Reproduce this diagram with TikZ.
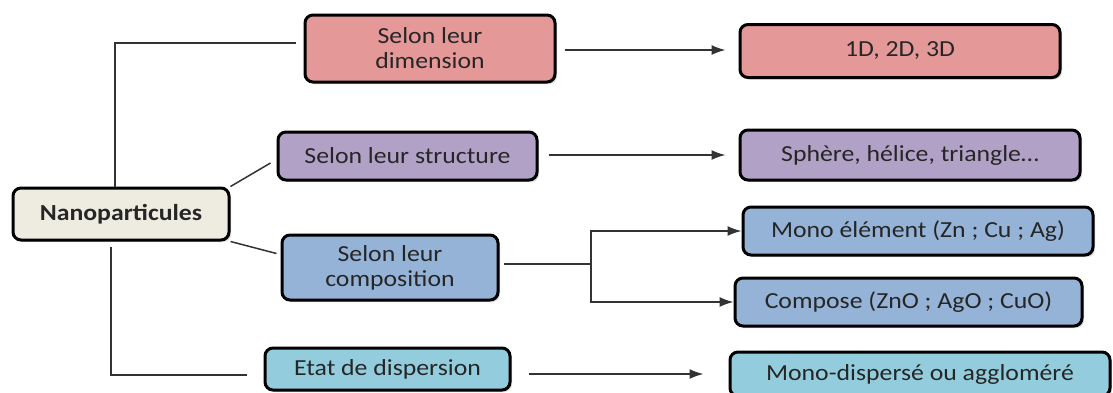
\documentclass[tikz,border=0pt]{standalone}
\usepackage{fontspec}
\setmainfont{Carlito}[FakeStretch=1.12]
\usetikzlibrary{shapes, arrows.meta, shadows}

\definecolor{nanocol}{RGB}{238,236,225}
\definecolor{dimcol}{RGB}{228,152,152}
\definecolor{strucol}{RGB}{178,161,199}
\definecolor{compcol}{RGB}{149,179,215}
\definecolor{dispcol}{RGB}{147,205,221}

\tikzset{
	box/.style={draw=black, line width=3pt, rounded corners=8pt, align=center, inner sep=0pt,
		text=black!85, font=\fontsize{23}{25}\selectfont,
		drop shadow={shadow xshift=2pt, shadow yshift=-2pt, opacity=0.3}},
	link/.style={line width=1.5pt, black!80},
	arr/.style={link, -{Latex[length=14pt, width=10pt]}}
}

\begin{document}
\begin{tikzpicture}[x=1pt, y=-1pt]
	\useasboundingbox (0,0) rectangle (1113,392);
	%Nanoparticules
		\node[box, fill=nanocol, minimum width=216pt, minimum height=52pt, font=\fontsize{23}{25}\selectfont\bfseries] (nano) at (121,214) {Nanoparticules};
	%Selon leur dimension
		\node[box, fill=dimcol, minimum width=250pt, minimum height=67pt] (dim) at (430,48.5) {Selon leur\\dimension};
		\node[box, fill=dimcol, minimum width=320pt, minimum height=53pt] (d1) at (900,51) {1D, 2D, 3D};
	%Selon leur structure
		\node[box, fill=strucol, minimum width=259pt, minimum height=48pt] (struc) at (407.5,156) {Selon leur structure};
		\node[box, fill=strucol, minimum width=340pt, minimum height=50pt] (sph) at (910,155) {Sphère, hélice, triangle…};
	%Selon leur composition
		\node[box, fill=compcol, minimum width=216pt, minimum height=65pt] (comp) at (390,267.5) {Selon leur\\composition};
		\node[box, fill=compcol, minimum width=350pt, minimum height=48pt] (mono) at (918,231) {Mono élément (Zn ; Cu ; Ag)};
		\node[box, fill=compcol, minimum width=347pt, minimum height=48pt] (compo) at (908.5,302) {Compose (ZnO ; AgO ; CuO)};
		\coordinate (branch) at (591,264);
	%Etat de dispersion
		\node[box, fill=dispcol, minimum width=245pt, minimum height=42pt] (etat) at (387.5,369) {Etat de dispersion};
		\node[box, fill=dispcol, minimum width=380pt, minimum height=44pt] (disp) at (920,374) {Mono-dispersé ou aggloméré};
	%Nanoparticules->branches
		\draw[link] ([xshift=-6pt]nano.north) |- ([xshift=-8pt, yshift=5.5pt]dim.west);
		\draw[link] (nano.north east) -- ([xshift=-6pt, yshift=-7pt]struc.west);
		\draw[link] (nano.south east) -- ([xshift=-4pt, yshift=14pt]comp.west);
		\draw[link] ([xshift=-10pt, yshift=-5pt]nano.south) |- ([xshift=-17pt, yshift=-6pt]etat.west);
	%branches->examples
		\draw[arr] ([xshift=8pt, yshift=-1.5pt]dim.east) -- ([xshift=-13pt, yshift=-1.5pt]dim.east -| d1.west);
		\draw[arr] ([xshift=10pt, yshift=1pt]struc.east) -- ([xshift=-13pt]sph.west);
		\draw[link] ([xshift=4pt, yshift=3.5pt]comp.east) -- (branch);
		\draw[arr] (branch) |- (mono.west);
		\draw[arr] (branch) |- (compo.west);
		\draw[arr] ([xshift=17pt, yshift=-5pt]etat.east) -- ([xshift=-25pt]disp.west);
\end{tikzpicture}
\end{document}
